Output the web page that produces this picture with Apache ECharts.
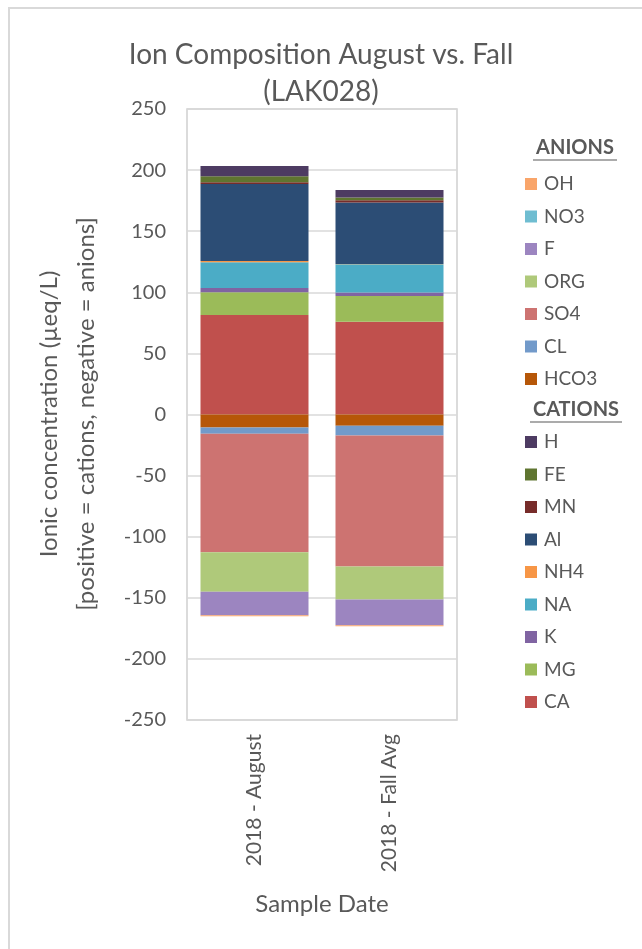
<!DOCTYPE html>
<html>
<head>
<meta charset="utf-8">
<title>Ion Composition August vs. Fall (LAK028)</title>
<script src="https://cdn.jsdelivr.net/npm/echarts@6/dist/echarts.min.js"></script>
<style>
  html, body { margin: 0; padding: 0; background: #fff; }
  #chart { width: 642px; height: 949px; }
</style>
</head>
<body>
<div id="chart"></div>
<script>
// Sample dates
const categories = ['2018 - August', '2018 - Fall Avg'];

// Cations (µeq/L), drawn upward from zero in this order
const CA  = [81.5, 76.0];
const MG  = [18.6, 20.9];
const K   = [3.4, 2.9];
const NA  = [21.0, 23.1];
const NH4 = [1.2, 0.3];
const Al  = [63.0, 50.2];
const MN  = [1.4, 2.0];
const FE  = [4.9, 2.1];
const H   = [8.4, 6.3];

// Anions (µeq/L, negative), drawn downward from zero in this order
const HCO3 = [-10.6, -9.3];
const CL   = [-5.2, -7.8];
const SO4  = [-97.0, -107.3];
const ORG  = [-32.3, -26.9];
const F    = [-19.1, -21.2];
const NO3  = [0, 0];
const OH   = [-0.8, -0.8];

// Value axis ticks
const yTicks = [-250, -200, -150, -100, -50, 0, 50, 100, 150, 200, 250];

const cationSeries = [
  ['CA', CA, '#C0504D'],
  ['MG', MG, '#9BBB59'],
  ['K', K, '#8064A2'],
  ['NA', NA, '#4BACC6'],
  ['NH4', NH4, '#F79646'],
  ['Al', Al, '#2C4D75'],
  ['MN', MN, '#772C2A'],
  ['FE', FE, '#5F7530'],
  ['H', H, '#4D3B62']
];
const anionSeries = [
  ['HCO3', HCO3, '#B65708'],
  ['CL', CL, '#729ACA'],
  ['SO4', SO4, '#CD7371'],
  ['ORG', ORG, '#AFC97A'],
  ['F', F, '#9C85C0'],
  ['NO3', NO3, '#6FBDD1'],
  ['OH', OH, '#F9A56A']
];

const FONT = 'Lato';
const GREY = '#595959';

const series = cationSeries.concat(anionSeries).map(([name, data, color]) => ({
  name,
  type: 'bar',
  stack: 'ions',
  barWidth: 108,
  data,
  itemStyle: { color },
  emphasis: { disabled: true }
}));

const legendBase = {
  orient: 'vertical',
  left: 520,
  itemWidth: 12,
  itemHeight: 12,
  itemGap: 12.5,
  icon: 'rect',
  selectedMode: false,
  textStyle: { fontFamily: FONT, fontSize: 19, color: GREY, lineHeight: 20, padding: [0, 0, 0, 2] }
};

const chart = echarts.init(document.getElementById('chart'), null, { renderer: 'canvas' });
chart.setOption({
  animation: false,
  backgroundColor: '#fff',
  title: {
    text: 'Ion Composition August vs. Fall\n(LAK028)',
    left: 'center',
    top: 31,
    textStyle: { fontFamily: FONT, fontSize: 28, fontWeight: 'normal', color: GREY, lineHeight: 37 }
  },
  legend: [
    Object.assign({}, legendBase, {
      top: 169,
      data: anionSeries.map(s => s[0]).reverse()
    }),
    Object.assign({}, legendBase, {
      top: 427,
      data: cationSeries.map(s => s[0]).reverse()
    })
  ],
  grid: {
    left: 187, right: 185, top: 109, bottom: 229,
    show: true, borderColor: '#D0D0D0', borderWidth: 1.5
  },
  xAxis: {
    type: 'category',
    data: categories,
    axisLine: { show: false },
    axisTick: { show: false },
    axisLabel: { rotate: 90, margin: 14, fontFamily: FONT, fontSize: 21, color: GREY }
  },
  yAxis: {
    type: 'value',
    min: yTicks[0],
    max: yTicks[yTicks.length - 1],
    interval: 50,
    axisLine: { show: false },
    axisTick: { show: false },
    axisLabel: { margin: 21, fontFamily: FONT, fontSize: 20, color: GREY },
    splitLine: { lineStyle: { color: '#D9D9D9', width: 1.5 } }
  },
  graphic: [
    { type: 'rect', shape: { x: 9, y: 8, width: 700, height: 1000 }, style: { fill: 'none', stroke: '#D9D9D9', lineWidth: 2 }, silent: true },
    { type: 'text', x: 49, y: 414, rotation: Math.PI / 2,
      style: { text: 'Ionic concentration (µeq/L)', fontFamily: FONT, fontSize: 24, fill: GREY, textAlign: 'center', textVerticalAlign: 'middle' } },
    { type: 'text', x: 86, y: 414, rotation: Math.PI / 2,
      style: { text: '[positive = cations, negative = anions]', fontFamily: FONT, fontSize: 24, fill: GREY, textAlign: 'center', textVerticalAlign: 'middle' } },
    { type: 'text', x: 322, y: 904,
      style: { text: 'Sample Date', fontFamily: FONT, fontSize: 24, fill: GREY, textAlign: 'center', textVerticalAlign: 'middle' } },
    { type: 'text', x: 575, y: 148,
      style: { text: 'ANIONS', fontFamily: FONT, fontSize: 20, fontWeight: 'bold', fill: GREY, textAlign: 'center', textVerticalAlign: 'middle' } },
    { type: 'line', shape: { x1: 533, y1: 160, x2: 617, y2: 160 }, style: { stroke: GREY, lineWidth: 1.2 } },
    { type: 'text', x: 576, y: 410,
      style: { text: 'CATIONS', fontFamily: FONT, fontSize: 20, fontWeight: 'bold', fill: GREY, textAlign: 'center', textVerticalAlign: 'middle' } },
    { type: 'line', shape: { x1: 530, y1: 422, x2: 622, y2: 422 }, style: { stroke: GREY, lineWidth: 1.2 } }
  ],
  series
});
</script>
</body>
</html>
